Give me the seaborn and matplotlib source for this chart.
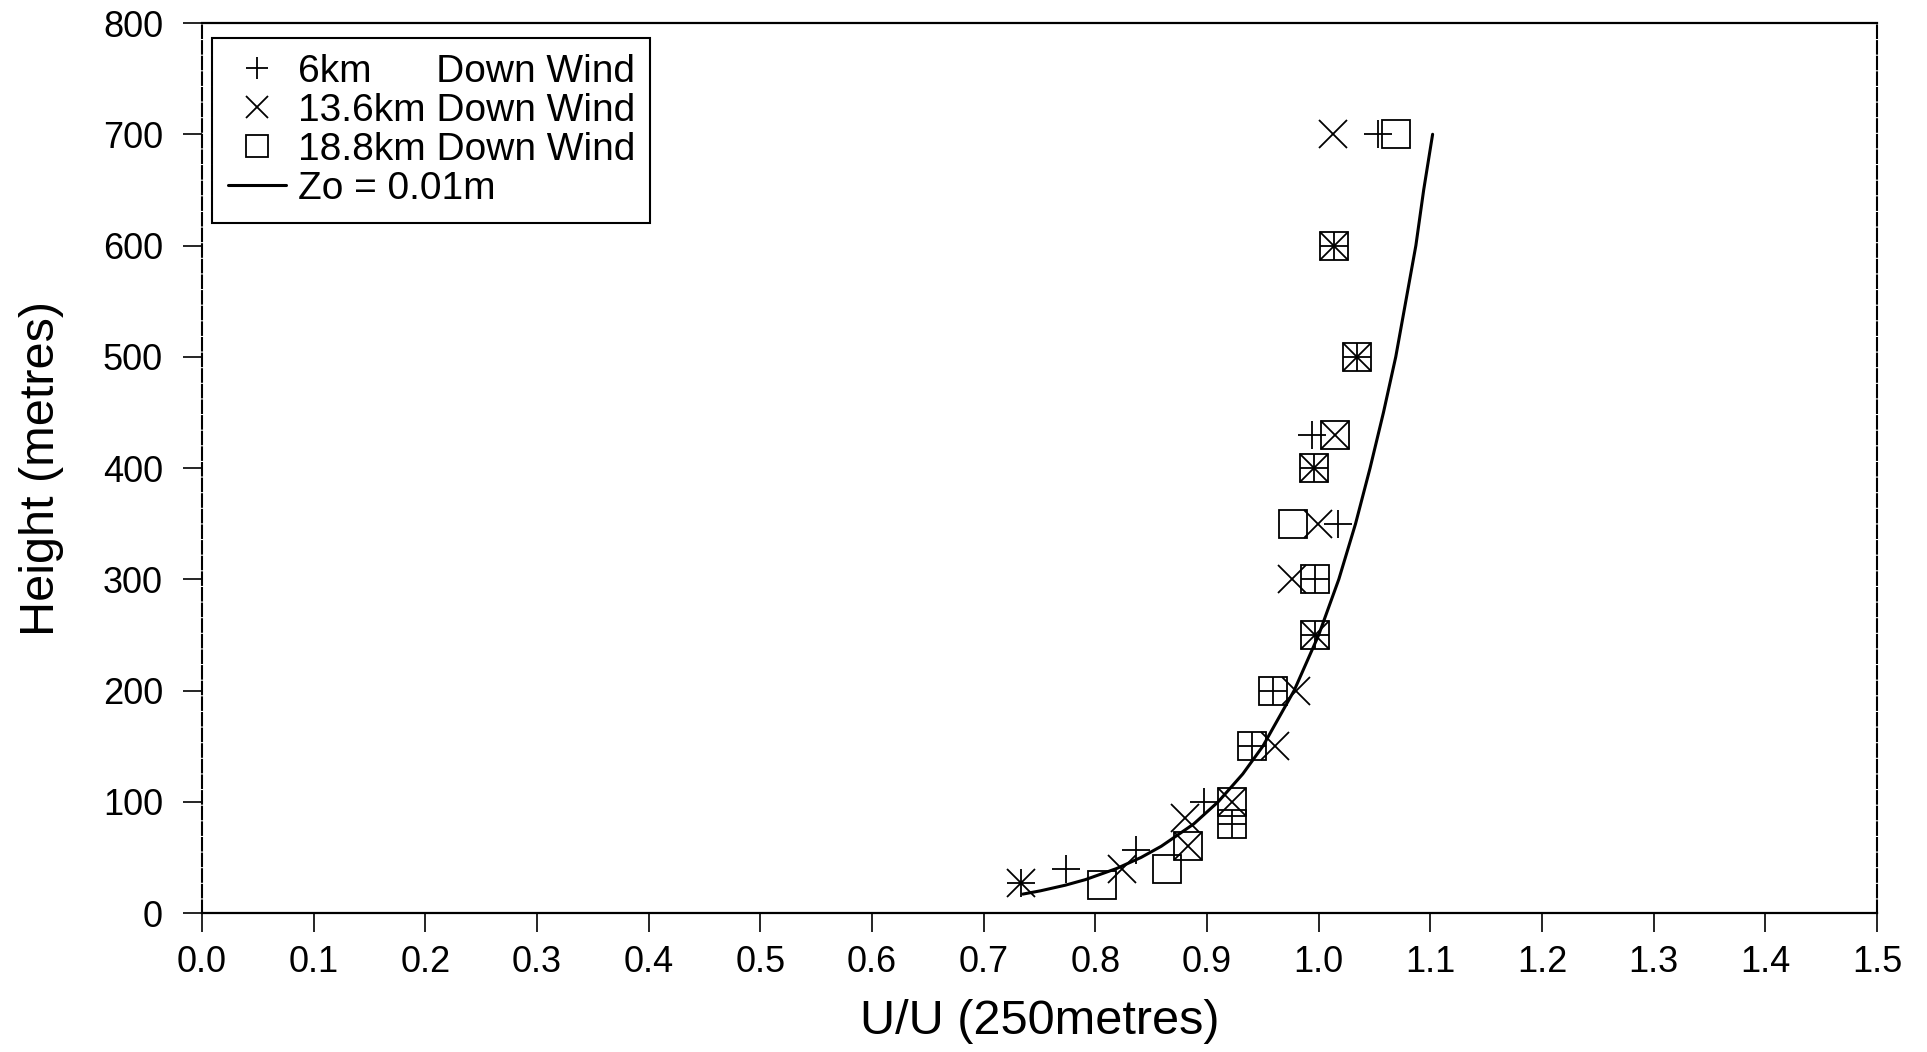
import matplotlib
matplotlib.use("Agg")
import matplotlib.pyplot as plt
import seaborn as sns

# Normalised wind speed U/U(250 m) against height for three fetches
h_6km = [27, 40, 57, 80, 100, 150, 200, 250, 300, 350, 400, 430, 500, 600, 700]
u_6km = [0.733, 0.774, 0.836, 0.922, 0.897, 0.940, 0.959, 0.997, 0.997, 1.017,
         0.996, 0.994, 1.034, 1.014, 1.053]

h_13km = [27, 40, 60, 85, 100, 150, 200, 250, 300, 350, 400, 430, 500, 600, 700]
u_13km = [0.733, 0.824, 0.883, 0.880, 0.922, 0.961, 0.980, 0.997, 0.976, 0.999,
          0.996, 1.015, 1.034, 1.014, 1.013]

h_18km = [25, 40, 60, 80, 100, 150, 200, 250, 300, 350, 400, 430, 500, 600, 700]
u_18km = [0.806, 0.864, 0.883, 0.922, 0.922, 0.940, 0.959, 0.997, 0.997, 0.977,
          0.996, 1.015, 1.034, 1.014, 1.069]

# Log-law profile for roughness length Zo = 0.01 m
h_zo = [17, 20, 25, 30, 40, 50, 60, 80, 100, 125, 150, 200, 250, 300, 350,
        400, 450, 500, 550, 600, 650, 700]
u_zo = [0.735, 0.751, 0.773, 0.791, 0.819, 0.841, 0.859, 0.888, 0.910, 0.932,
        0.950, 0.978, 1.000, 1.018, 1.033, 1.046, 1.058, 1.069, 1.078, 1.087,
        1.094, 1.102]

labels = ["6km      Down Wind", "13.6km Down Wind", "18.8km Down Wind", "Zo = 0.01m"]
x_ticks = [round(0.1 * i, 1) for i in range(16)]
y_ticks = list(range(0, 801, 100))

sns.set_theme(style="white")
plt.rcParams["font.family"] = ["Liberation Sans", "DejaVu Sans"]
plt.rcParams["text.color"] = "black"
plt.rcParams["axes.labelcolor"] = "black"
plt.rcParams["xtick.color"] = "black"
plt.rcParams["ytick.color"] = "black"

fig = plt.figure(figsize=(19.27, 10.52), dpi=100)
ax = fig.add_axes([0.1048, 0.1321, 0.8693, 0.846])

marker_kw = dict(color="black", linestyle="none", markersize=20,
                 markeredgewidth=1.3, markeredgecolor="black",
                 estimator=None, sort=False, orient="y")

sns.lineplot(x=u_6km, y=h_6km, marker="+", label=labels[0], ax=ax, **marker_kw)
sns.lineplot(x=u_13km, y=h_13km, marker="x", label=labels[1], ax=ax, **marker_kw)
sns.lineplot(x=u_18km, y=h_18km, marker="s", markerfacecolor="none",
             label=labels[2], ax=ax, **marker_kw)
sns.lineplot(x=u_zo, y=h_zo, color="black", linewidth=2.2, estimator=None,
             sort=False, orient="y", label=labels[3], ax=ax)

ax.set_xlim(0, 1.5)
ax.set_ylim(0, 800)
ax.set_xticks(x_ticks)
ax.set_xticklabels([f"{t:.1f}" for t in x_ticks])
ax.set_yticks(y_ticks)
ax.tick_params(axis="both", which="major", direction="out", length=14,
               width=1.2, labelsize=26, bottom=True, left=True,
               top=False, right=False)
ax.tick_params(axis="x", pad=9)
ax.tick_params(axis="y", pad=14)

ax.set_xlabel("U/U (250metres)", fontsize=35, labelpad=14)
ax.set_ylabel("Height (metres)", fontsize=35, labelpad=28)

for side in ["top", "bottom"]:
    ax.spines[side].set_color("black")
    ax.spines[side].set_linewidth(1.6)
for side in ["left", "right"]:
    ax.spines[side].set_color("black")
    ax.spines[side].set_linewidth(1.5)
    ax.spines[side].set_linestyle((0, (6, 1.5)))

leg = ax.legend(loc="upper left", bbox_to_anchor=(0.006, 0.983),
                borderaxespad=0, fontsize=28, frameon=True, fancybox=False,
                handlelength=1.5, handletextpad=0.3, labelspacing=0.08,
                borderpad=0.4, markerscale=0.8)
leg.get_frame().set_edgecolor("black")
leg.get_frame().set_linewidth(1.5)
leg.get_frame().set_facecolor("white")
leg.get_frame().set_alpha(1)

fig.savefig("out.png", dpi=100, facecolor="white")
